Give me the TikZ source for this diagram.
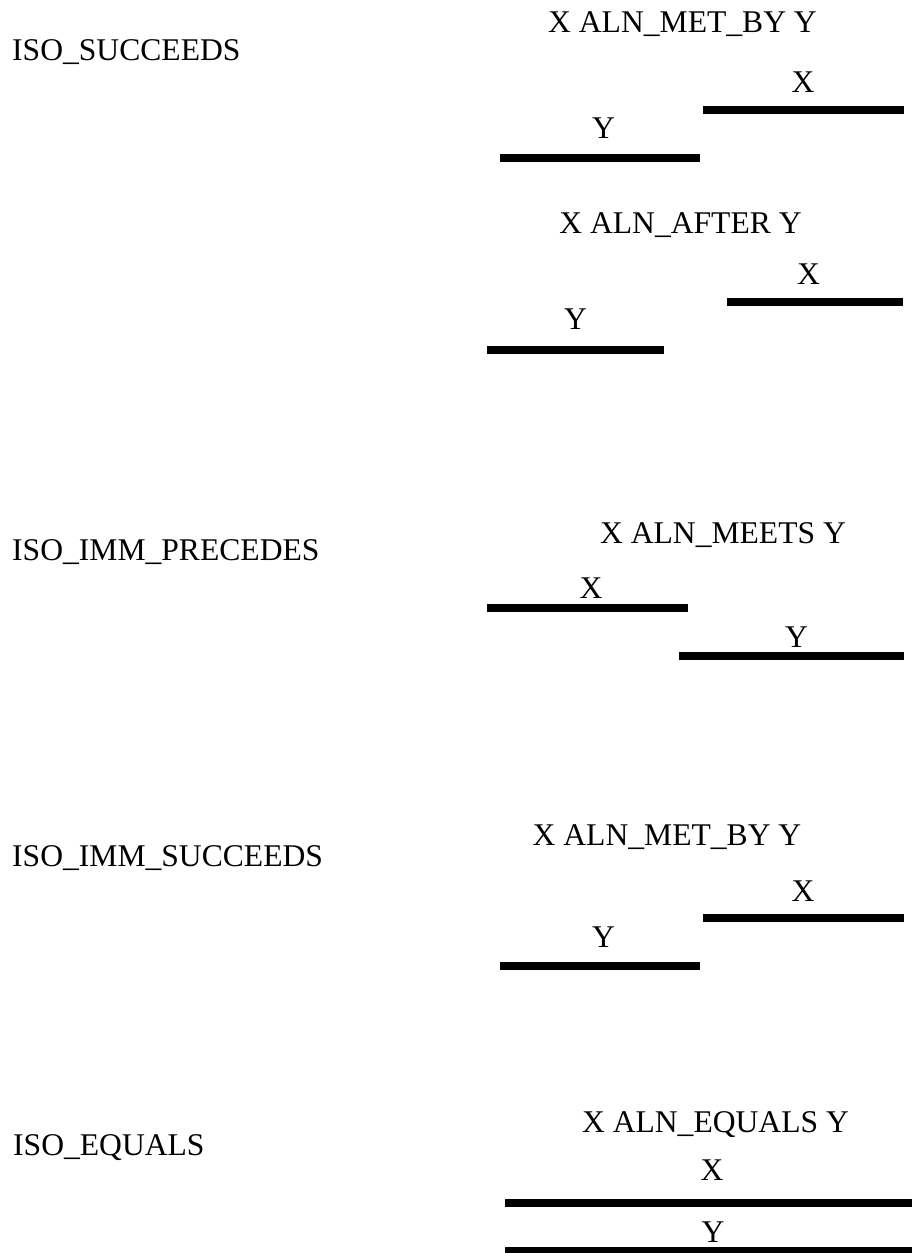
\documentclass[tikz,border=0pt]{standalone}
\usepackage{fontspec}
\setmainfont{Liberation Serif}
\usepackage{tikz}
\tikzset{
  bar/.style={line width=8pt},
  lbl/.style={anchor=base, inner sep=0pt, font=\fontsize{31.6}{38}\selectfont},
  iso/.style={lbl, anchor=base west}
}

\begin{document}
\begin{tikzpicture}[x=1pt,y=-1pt]
\useasboundingbox (0,0) rectangle (912,1253);

% ISO names
\node[iso] (isoS) at (12,60) {ISO\_SUCCEEDS};
\node[iso] (isoIP) at (12,560) {ISO\_IMM\_PRECEDES};
\node[iso] (isoIS) at (12,866) {ISO\_IMM\_SUCCEEDS};
\node[iso] (isoE) at (13,1155) {ISO\_EQUALS};

% Succeeds: met by
\node[lbl] (metby) at (682.5,32) {X ALN\_MET\_BY Y};
\coordinate (X1a) at (703,110);
\coordinate (X1b) at (904,110);
\coordinate (Y1a) at (500,158);
\coordinate (Y1b) at (700,158);
\draw[bar] (X1a) -- (X1b);
\draw[bar] (Y1a) -- (Y1b);
\node[lbl] (x1) at (803,92) {X};
\node[lbl] (y1) at (603.5,138) {Y};

% Succeeds: after
\node[lbl] (after) at (680.5,233) {X ALN\_AFTER Y};
\coordinate (X2a) at (727,302);
\coordinate (X2b) at (903,302);
\coordinate (Y2a) at (487,350);
\coordinate (Y2b) at (664,350);
\draw[bar] (X2a) -- (X2b);
\draw[bar] (Y2a) -- (Y2b);
\node[lbl] (x2) at (808.5,284) {X};
\node[lbl] (y2) at (575.5,329) {Y};

% Imm precedes: meets
\node[lbl] (meets) at (723,543) {X ALN\_MEETS Y};
\coordinate (X3a) at (487,608);
\coordinate (X3b) at (688,608);
\coordinate (Y3a) at (679,656);
\coordinate (Y3b) at (904,656);
\draw[bar] (X3a) -- (X3b);
\draw[bar] (Y3a) -- (Y3b);
\node[lbl] (x3) at (591,598) {X};
\node[lbl] (y3) at (796.5,647) {Y};

% Imm succeeds: met by
\node[lbl] (metby2) at (667,845) {X ALN\_MET\_BY Y};
\coordinate (X4a) at (703,918);
\coordinate (X4b) at (904,918);
\coordinate (Y4a) at (500,966);
\coordinate (Y4b) at (700,966);
\draw[bar] (X4a) -- (X4b);
\draw[bar] (Y4a) -- (Y4b);
\node[lbl] (x4) at (803,901) {X};
\node[lbl] (y4) at (603.5,947) {Y};

% Equals
\node[lbl] (equals) at (715.5,1132) {X ALN\_EQUALS Y};
\coordinate (X5a) at (505,1203);
\coordinate (X5b) at (912,1203);
\coordinate (Y5a) at (505,1251);
\coordinate (Y5b) at (912,1251);
\draw[bar] (X5a) -- (X5b);
\draw[bar] (Y5a) -- (Y5b);
\node[lbl] (x5) at (712,1180) {X};
\node[lbl] (y5) at (713,1242) {Y};
\end{tikzpicture}
\end{document}
